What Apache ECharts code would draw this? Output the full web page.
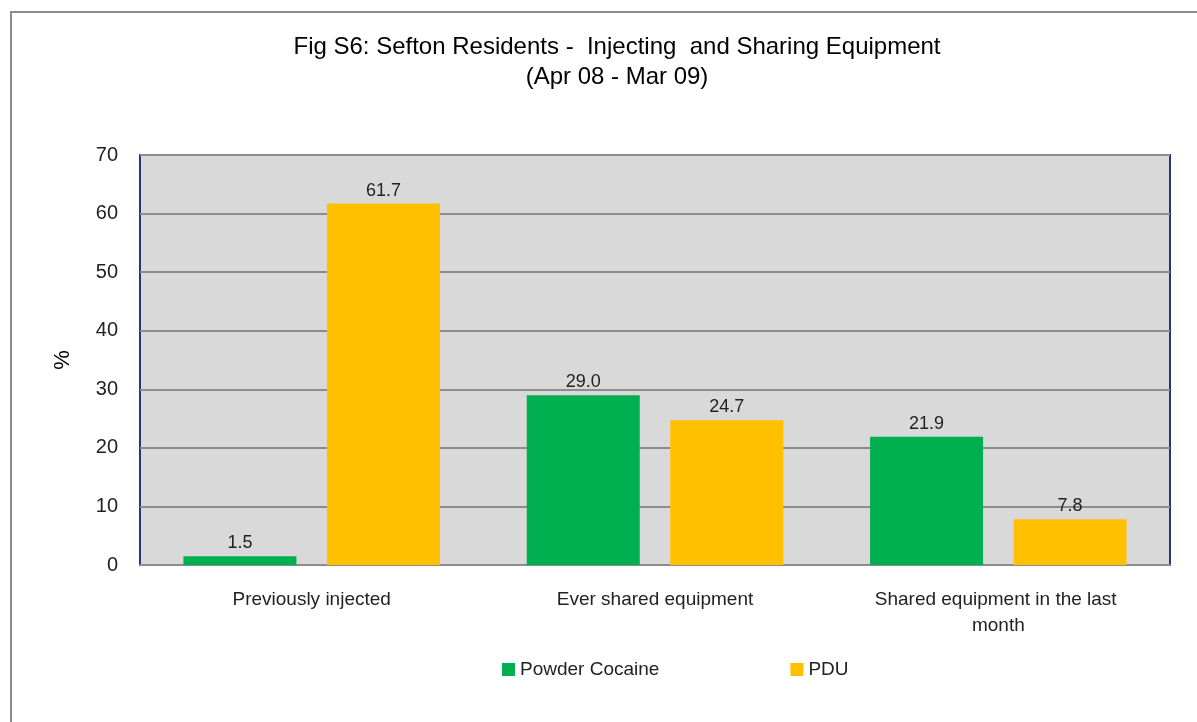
<!DOCTYPE html>
<html>
<head>
<meta charset="utf-8">
<script src="https://cdn.jsdelivr.net/npm/echarts@6/dist/echarts.min.js"></script>
<style>
  html, body { margin: 0; padding: 0; background: #fff; }
  #main { width: 1197px; height: 722px; }
</style>
</head>
<body>
<div id="main"></div>
<script>
// chart data
var categories = ['Previously injected', 'Ever shared equipment', 'Shared equipment in the last month'];
var powderCocaine = [1.5, 29.0, 21.9];
var pdu = [61.7, 24.7, 7.8];
var yTicks = [0, 10, 20, 30, 40, 50, 60, 70];

var font = 'Liberation Sans';

var myChart = echarts.init(document.getElementById('main'));

function valueLabel() {
    return {
        show: true,
        position: 'top',
        distance: 4,
        color: '#222',
        fontSize: 18,
        fontFamily: font,
        formatter: function (p) { return p.value.toFixed(1); }
    };
}

myChart.setOption({
    animation: false,
    backgroundColor: '#fff',
    graphic: [{
        type: 'rect',
        shape: { x: 11, y: 12, width: 1220, height: 740 },
        style: { fill: 'none', stroke: '#8c8c8c', lineWidth: 2 },
        z: -10
    }],
    title: {
        text: 'Fig S6: Sefton Residents -  Injecting  and Sharing Equipment\n(Apr 08 - Mar 09)',
        left: 612,
        textAlign: 'center',
        top: 27,
        textStyle: {
            fontFamily: font,
            fontSize: 24,
            fontWeight: 'normal',
            color: '#000',
            lineHeight: 30
        }
    },
    legend: {
        left: 497,
        top: 655,
        itemWidth: 13,
        itemHeight: 13,
        itemGap: 131,
        icon: 'rect',
        textStyle: { fontFamily: font, fontSize: 19, color: '#222' },
        data: ['Powder Cocaine', 'PDU']
    },
    grid: {
        left: 140,
        top: 155,
        width: 1030,
        height: 410,
        show: true,
        backgroundColor: '#d9d9d9',
        borderColor: '#1f3a7a',
        borderWidth: 2
    },
    xAxis: {
        type: 'category',
        data: categories,
        axisLine: { show: true, lineStyle: { color: '#8c8c8c', width: 2 } },
        axisTick: { show: false },
        axisLabel: {
            fontFamily: font,
            fontSize: 19,
            color: '#222',
            margin: 22,
            lineHeight: 26,
            width: 275,
            overflow: 'break',
            interval: 0
        }
    },
    yAxis: {
        type: 'value',
        min: yTicks[0],
        max: yTicks[yTicks.length - 1],
        interval: 10,
        name: '%',
        nameLocation: 'middle',
        nameGap: 66,
        nameRotate: 90,
        nameTextStyle: { fontFamily: font, fontSize: 22, color: '#000' },
        axisLine: { show: false },
        axisTick: { show: false },
        axisLabel: { fontFamily: font, fontSize: 20, color: '#222', margin: 22 },
        splitLine: { lineStyle: { color: '#8c8c8c', width: 2 } }
    },
    series: [
        {
            name: 'Powder Cocaine',
            type: 'bar',
            data: powderCocaine,
            barWidth: 113,
            barGap: '27%',
            itemStyle: { color: '#00b050' },
            label: valueLabel()
        },
        {
            name: 'PDU',
            type: 'bar',
            data: pdu,
            barWidth: 113,
            barGap: '27%',
            itemStyle: { color: '#ffc000' },
            label: valueLabel()
        }
    ]
});
</script>
</body>
</html>
